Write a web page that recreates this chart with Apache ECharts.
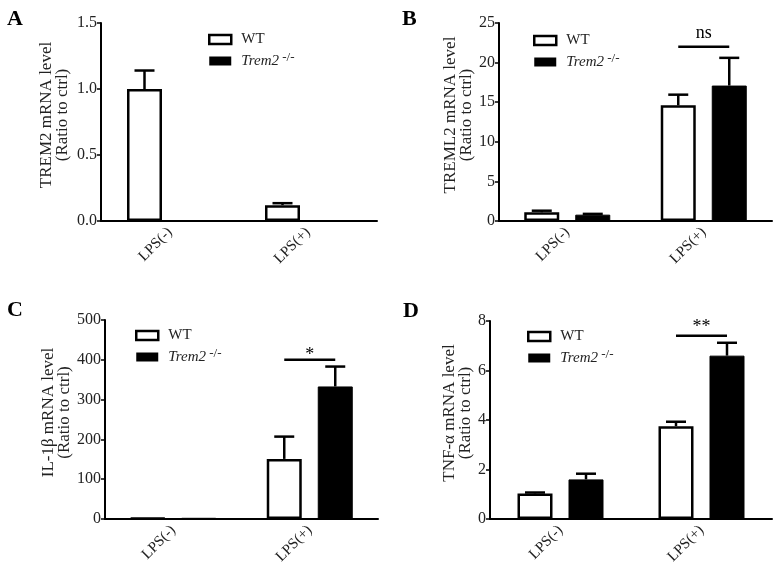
<!DOCTYPE html>
<html>
<head>
<meta charset="utf-8">
<script src="https://cdn.jsdelivr.net/npm/echarts@6/dist/echarts.min.js"></script>
<style>html,body{margin:0;padding:0;background:#fff;}#c{width:780px;height:575px;}</style>
</head>
<body>
<div id="c"></div>
<script>
// ---------- data ----------
const categories = ['LPS(-)', 'LPS(+)'];
const seriesNames = ['WT', 'Trem2'];
const panelLetters = ['A', 'B', 'C', 'D'];
const yTitles = ['TREM2 mRNA level', 'TREML2 mRNA level', 'IL-1β mRNA level', 'TNF-α mRNA level'];
const yTitle2 = '(Ratio to ctrl)';
const yMin = [0, 0, 0, 0];
const yMax = [1.5, 25, 500, 8];
const yStep = [0.5, 5, 100, 2];
const yDecimals = [1, 0, 0, 0];

// Panel A: TREM2
const wtMeanA = [1.00, 0.12];
const wtSemA  = [0.14, 0.015];
const koMeanA = [0.005, 0];
const koSemA  = [0.0, 0];
// Panel B: TREML2
const wtMeanB = [1.1, 14.6];
const wtSemB  = [0.2, 1.35];
const koMeanB = [0.8, 17.1];
const koSemB  = [0.1, 3.5];
// Panel C: IL-1b
const wtMeanC = [2, 151];
const wtSemC  = [0, 56];
const koMeanC = [3, 333];
const koSemC  = [0, 50];
// Panel D: TNF-a
const wtMeanD = [1.03, 3.75];
const wtSemD  = [0.04, 0.18];
const koMeanD = [1.6, 6.6];
const koSemD  = [0.23, 0.52];

// significance brackets: panel, category index, y value, label
const sigPanel = [1, 2, 3];
const sigCat   = [1, 1, 1];
const sigY     = [22, 400, 7.4];
const sigText  = ['ns', '*', '**'];

// ---------- layout / style ----------
const FONT = '"Liberation Serif", "DejaVu Serif", serif';
const TXT = '#222';
const BAR_W = 35;
const BAR_GAP = 16;
const grids = [
  {left: 101, top: 23, width: 276, height: 198},
  {left: 499, top: 23, width: 273, height: 198},
  {left: 105, top: 320, width: 273, height: 199},
  {left: 490, top: 321, width: 282, height: 198}
];
const nameGaps = [30, 23, 31, 14];
const legendPos = [
  {left: 203, top: 27},
  {left: 528, top: 28},
  {left: 130, top: 323},
  {left: 522, top: 324}
];
const letterPos = [[7, 8], [402, 8], [7, 299], [403, 300]];
const sigTextShift = [-4, 4, 0];

const wtMeans = [wtMeanA, wtMeanB, wtMeanC, wtMeanD];
const wtSems  = [wtSemA, wtSemB, wtSemC, wtSemD];
const koMeans = [koMeanA, koMeanB, koMeanC, koMeanD];
const koSems  = [koSemA, koSemB, koSemC, koSemD];

const chart = echarts.init(document.getElementById('c'), null, {renderer: 'canvas'});

const xAxes = [], yAxes = [], series = [], legends = [], graphics = [];

function errRender(sign) {
  return function (params, api) {
    const c = api.value(0), m = api.value(1), s = api.value(2);
    if (!(s > 0)) return null;
    const p0 = api.coord([c, m]);
    const p1 = api.coord([c, m + s]);
    const x = p0[0] + sign * (BAR_W + BAR_GAP) / 2;
    const st = {stroke: '#000', lineWidth: 2.5};
    return {
      type: 'group',
      children: [
        {type: 'line', shape: {x1: x, y1: p0[1], x2: x, y2: p1[1]}, style: st},
        {type: 'line', shape: {x1: x - 10, y1: p1[1], x2: x + 10, y2: p1[1]}, style: st}
      ]
    };
  };
}

for (let i = 0; i < 4; i++) {
  xAxes.push({
    type: 'category', gridIndex: i, data: categories,
    axisLine: {lineStyle: {color: '#000', width: 2}},
    axisTick: {alignWithLabel: true, length: 5, lineStyle: {color: '#000', width: 2}},
    axisLabel: {rotate: 45, fontFamily: FONT, fontSize: 15, color: TXT, margin: 9}
  });
  const dec = yDecimals[i];
  yAxes.push({
    type: 'value', gridIndex: i, min: yMin[i], max: yMax[i], interval: yStep[i],
    axisLine: {show: true, lineStyle: {color: '#000', width: 2}},
    axisTick: {show: true, length: 4, lineStyle: {color: '#000', width: 1.5}},
    splitLine: {show: false},
    axisLabel: {fontFamily: FONT, fontSize: 16, color: TXT, margin: 4,
      formatter: v => v.toFixed(dec)},
    name: yTitles[i] + '\n' + yTitle2,
    nameLocation: 'middle', nameRotate: 90, nameGap: nameGaps[i],
    nameTextStyle: {fontFamily: FONT, fontSize: 17, color: TXT, lineHeight: 16, padding: [0, 0, 0, 14]}
  });
  series.push({
    type: 'bar', name: 'WT', xAxisIndex: i, yAxisIndex: i, data: wtMeans[i],
    barWidth: BAR_W, barGap: (BAR_GAP / BAR_W * 100) + '%',
    itemStyle: {color: '#fff', borderColor: '#000', borderWidth: 2.5},
    silent: true
  });
  series.push({
    type: 'bar', name: 'Trem2', xAxisIndex: i, yAxisIndex: i, data: koMeans[i],
    barWidth: BAR_W,
    itemStyle: {color: '#000', borderColor: '#000', borderWidth: 1},
    silent: true
  });
  series.push({
    type: 'custom', name: 'errWT', xAxisIndex: i, yAxisIndex: i, z: 5, silent: true,
    renderItem: errRender(-1),
    data: categories.map((c, k) => [k, wtMeans[i][k], wtSems[i][k]])
  });
  series.push({
    type: 'custom', name: 'errKO', xAxisIndex: i, yAxisIndex: i, z: 5, silent: true,
    renderItem: errRender(1),
    data: categories.map((c, k) => [k, koMeans[i][k], koSems[i][k]])
  });
  legends.push({
    left: legendPos[i].left, top: legendPos[i].top, orient: 'vertical',
    itemWidth: 22, itemHeight: 9, itemGap: 4, selectedMode: false,
    data: [
      {name: 'WT', icon: 'rect', itemStyle: {color: '#fff', borderColor: '#000', borderWidth: 2.5}},
      {name: 'Trem2', icon: 'rect', itemStyle: {color: '#000', borderColor: '#000', borderWidth: 0}}
    ],
    formatter: n => n === 'Trem2' ? '{i|Trem2}{s| -/-}' : '{n|' + n + '}',
    textStyle: {
      fontFamily: FONT, fontSize: 15, color: TXT, padding: [0, 0, 0, 5],
      rich: {
        n: {fontFamily: FONT, fontSize: 15, color: TXT, lineHeight: 17},
        i: {fontFamily: FONT, fontSize: 15, color: TXT, fontStyle: 'italic', lineHeight: 17},
        s: {fontFamily: FONT, fontSize: 13, color: TXT, lineHeight: 12, padding: [0, 0, 7, 0]}
      }
    }
  });
  graphics.push({
    type: 'text', left: letterPos[i][0], top: letterPos[i][1],
    style: {text: panelLetters[i], font: 'bold 22px ' + FONT, fill: '#000'}
  });
}

// significance brackets
sigPanel.forEach((p, k) => {
  series.push({
    type: 'custom', name: 'sig' + k, xAxisIndex: p, yAxisIndex: p, z: 6, silent: true,
    data: [[sigCat[k], sigY[k]]],
    renderItem: function (params, api) {
      const pt = api.coord([api.value(0), api.value(1)]);
      const h = (BAR_W + BAR_GAP) / 2;
      return {
        type: 'group',
        children: [
          {type: 'line', shape: {x1: pt[0] - h, y1: pt[1], x2: pt[0] + h, y2: pt[1]},
           style: {stroke: '#000', lineWidth: 2.5}},
          {type: 'text', x: pt[0], y: pt[1] + sigTextShift[k],
           style: {text: sigText[k], font: '18px ' + FONT,
                   fill: '#000', align: 'center', verticalAlign: 'bottom'}}
        ]
      };
    }
  });
});

chart.setOption({
  animation: false,
  backgroundColor: '#fff',
  grid: grids,
  xAxis: xAxes,
  yAxis: yAxes,
  legend: legends,
  series: series,
  graphic: graphics
});
</script>
</body>
</html>
